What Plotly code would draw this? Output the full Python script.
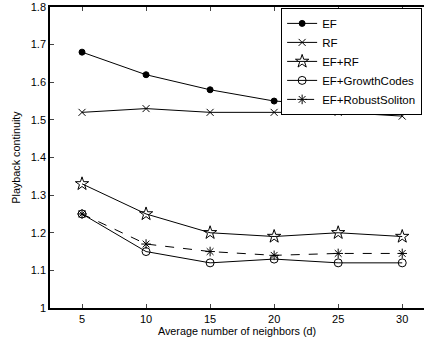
import plotly.graph_objects as go

neighbors = [5, 10, 15, 20, 25, 30]
ef = [1.68, 1.62, 1.58, 1.55, 1.54, 1.54]
rf = [1.52, 1.53, 1.52, 1.52, 1.52, 1.51]
ef_rf = [1.33, 1.25, 1.20, 1.19, 1.20, 1.19]
ef_growth = [1.25, 1.15, 1.12, 1.13, 1.12, 1.12]
ef_robust = [1.25, 1.17, 1.15, 1.14, 1.145, 1.145]
y_ticks = [1.0, 1.1, 1.2, 1.3, 1.4, 1.5, 1.6, 1.7, 1.8]
y_tick_labels = ["1", "1.1", "1.2", "1.3", "1.4", "1.5", "1.6", "1.7", "1.8"]

series = [
    ("EF", ef, "circle", 6, "solid"),
    ("RF", rf, "x-thin-open", 7, "solid"),
    ("EF+RF", ef_rf, "star-open", 10, "solid"),
    ("EF+GrowthCodes", ef_growth, "circle-open", 8, "solid"),
    ("EF+RobustSoliton", ef_robust, "asterisk-open", 8, "dash"),
]

fig = go.Figure()
for name, vals, sym, size, dash in series:
    fig.add_trace(go.Scatter(
        x=neighbors, y=vals, name=name, mode="lines+markers",
        line=dict(color="black", width=1, dash=dash),
        marker=dict(symbol=sym, size=size, color="black",
                    line=dict(color="black", width=1)),
    ))

fam = "Liberation Sans, Arial, sans-serif"
font = dict(family=fam, size=11, color="black")
tfont = dict(family=fam, size=10.8, color="black")
fig.update_layout(
    width=424, height=343,
    margin=dict(l=50, r=0, t=7, b=35),
    paper_bgcolor="white", plot_bgcolor="white",
    font=font,
    showlegend=True,
    legend=dict(x=0.995, y=0.997, xanchor="right", yanchor="top",
                bgcolor="white", bordercolor="black", borderwidth=1,
                font=dict(family=fam, size=11.5, color="black"), tracegroupgap=0),
    xaxis=dict(range=[2.5, 31.7], tickvals=neighbors, ticks="inside", ticklen=4,
               showline=True, linecolor="black", linewidth=1.5, mirror="ticks",
               showgrid=False, zeroline=False, tickfont=font,
               title=dict(text="Average number of neighbors (d)", standoff=3, font=tfont)),
    yaxis=dict(range=[1.0, 1.8], tickvals=y_ticks, ticktext=y_tick_labels,
               ticks="inside", ticklen=4, tickfont=font,
               showline=True, linecolor="black", linewidth=1.5, mirror=False,
               showgrid=False, zeroline=False,
               title=dict(text="Playback continuity", standoff=8, font=tfont)),
)
fig.write_html("out.html")
